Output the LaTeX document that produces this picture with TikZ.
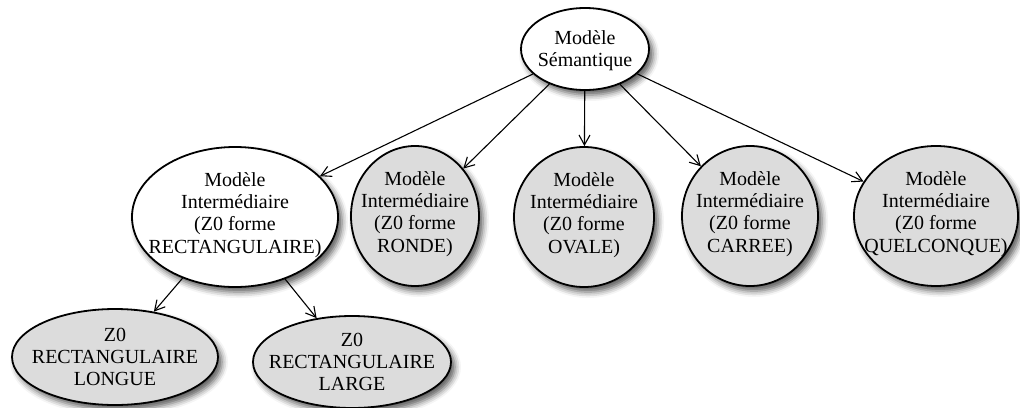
\documentclass[tikz,border=0pt]{standalone}
\usepackage{fontspec}
\setmainfont{Liberation Serif}
\usetikzlibrary{shapes.geometric,arrows.meta,shadows.blur}
\definecolor{nodegray}{RGB}{220,220,220}
\begin{document}
\begin{tikzpicture}[x=1pt,y=-1pt,
  every node/.style={font=\fontsize{20}{22.3}\selectfont, align=center, inner sep=0pt},
  ell/.style={ellipse, draw=black, line width=1.8pt,
    blur shadow={shadow xshift=4pt, shadow yshift=-5pt, shadow blur radius=6pt, shadow opacity=65}},
  whitebox/.style={ell, fill=white},
  graybox/.style={ell, fill=nodegray},
  txt/.style={label={[align=center, yshift=2pt]center:#1}},
  edge/.style={draw=black, line width=1.1pt, -{Straight Barb[length=10pt,width=11pt]}}
]
\useasboundingbox (0,0) rectangle (1020,407);

\node[whitebox, minimum width=128pt, minimum height=82pt, label={[align=center, yshift=-2pt]center:Modèle\\Sémantique}] (sem) at (585,49) {};

\node[whitebox, minimum width=206pt, minimum height=140pt, txt={Modèle\\Intermédiaire\\(Z0 forme\\RECTANGULAIRE)}] (rect) at (235,217) {};
\node[graybox, minimum width=128pt, minimum height=140pt, txt={Modèle\\Intermédiaire\\(Z0 forme\\RONDE)}] (ronde) at (415,216) {};
\node[graybox, minimum width=140pt, minimum height=140pt, txt={Modèle\\Intermédiaire\\(Z0 forme\\OVALE)}] (ovale) at (584,217) {};
\node[graybox, minimum width=136pt, minimum height=140pt, txt={Modèle\\Intermédiaire\\(Z0 forme\\CARREE)}] (carree) at (750,216) {};
\node[graybox, minimum width=164pt, minimum height=140pt, txt={Modèle\\Intermédiaire\\(Z0 forme\\QUELCONQUE)}] (quel) at (936,216) {};

\node[graybox, minimum width=206pt, minimum height=96pt, label={[align=center]center:Z0\\RECTANGULAIRE\\LONGUE}] (longue) at (115,357) {};
\node[graybox, minimum width=198pt, minimum height=92pt, label={[align=center]center:Z0\\RECTANGULAIRE\\LARGE}] (large) at (352,362) {};

\draw[edge] (sem) -- (rect);
\draw[edge] (sem) -- (ronde);
\draw[edge] (sem) -- (ovale);
\draw[edge] (sem) -- (carree);
\draw[edge] (sem) -- (quel);
\draw[edge] (rect) -- (longue);
\draw[edge] (rect) -- (large);
\end{tikzpicture}
\end{document}
